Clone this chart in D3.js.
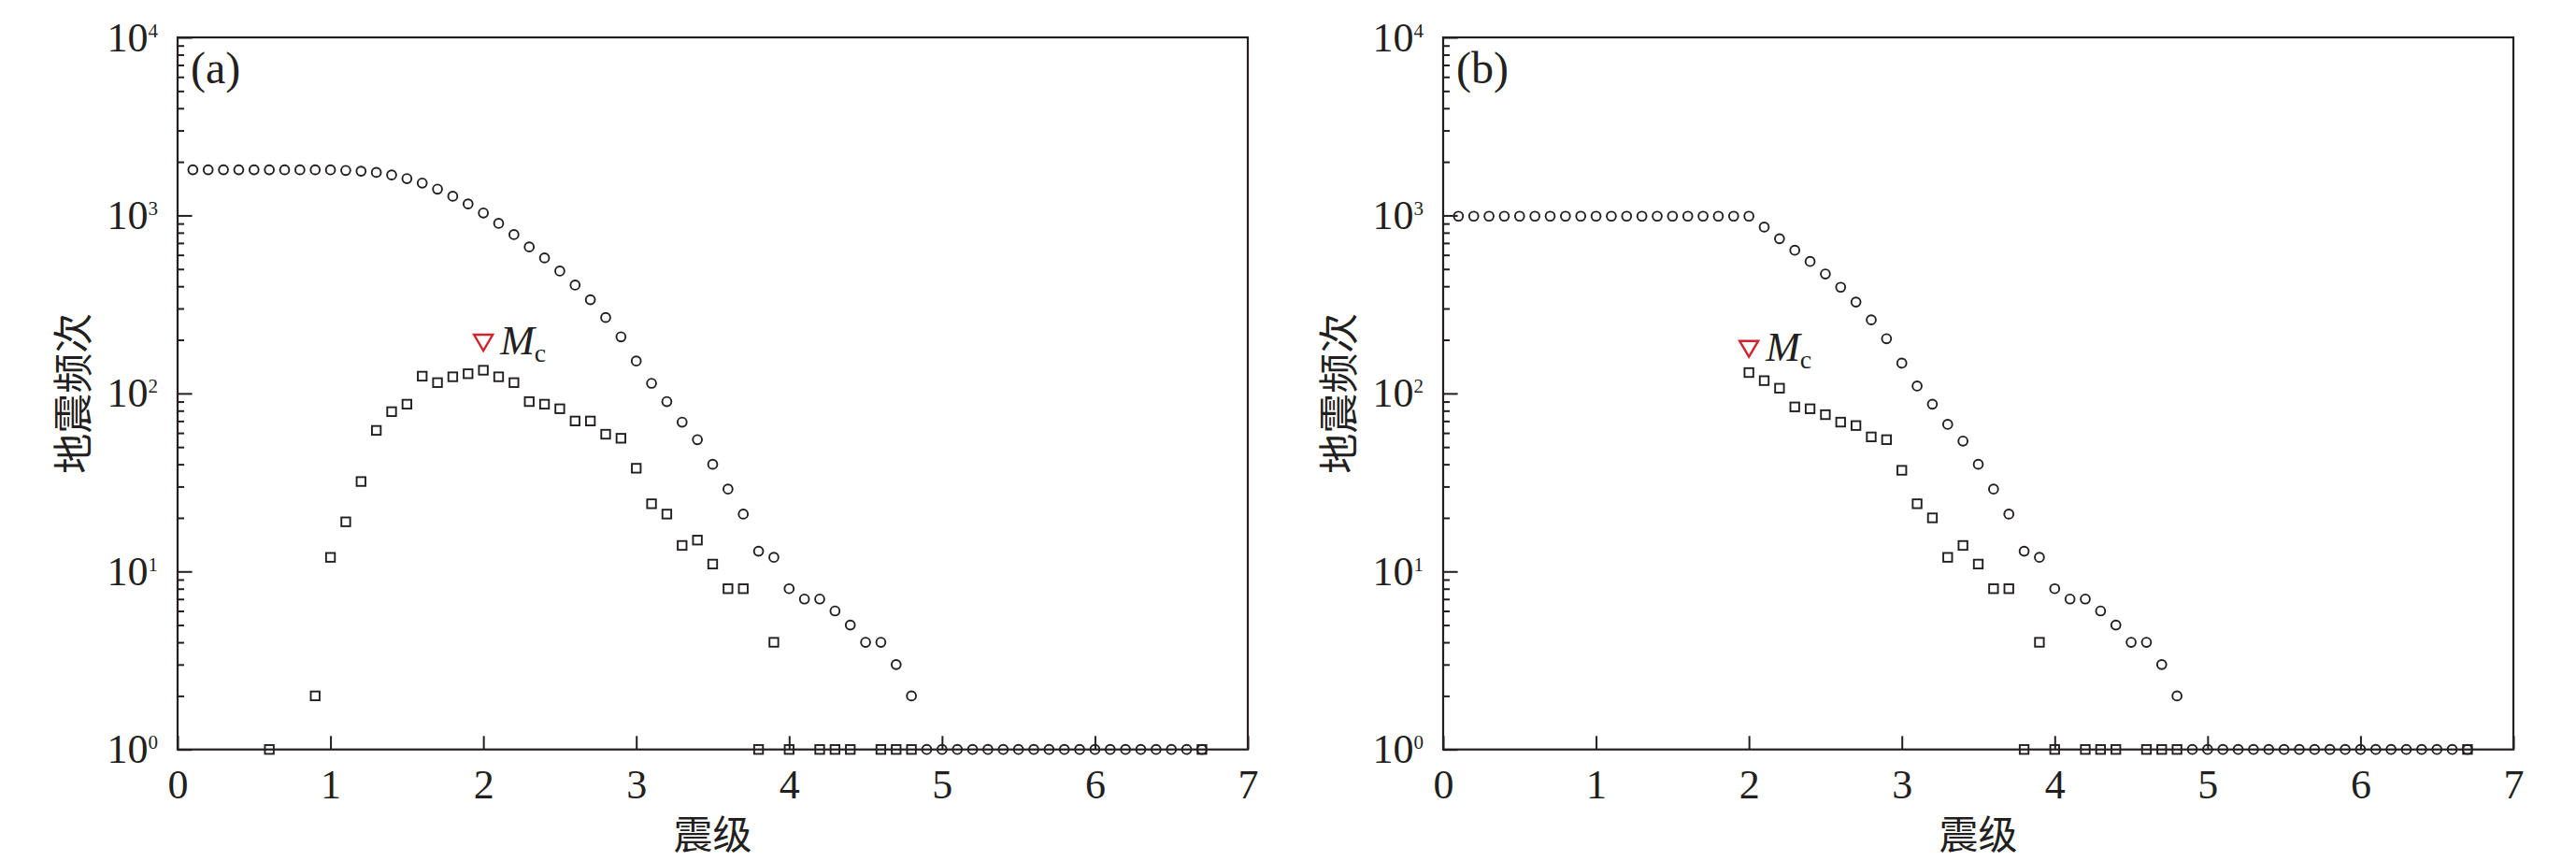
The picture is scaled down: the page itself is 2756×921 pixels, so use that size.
<!DOCTYPE html>
<html>
<head>
<meta charset="utf-8">
<script src="https://cdn.jsdelivr.net/npm/d3@7/dist/d3.min.js"></script>
<style>
body { margin: 0; background: #fff; }
</style>
</head>
<body>
<svg id="chart" width="2756" height="921"></svg>
<script>
// magnitude bins (0.1 step) shared by both panels
var magnitudes = [0.1, 0.2, 0.3, 0.4, 0.5, 0.6, 0.7, 0.8, 0.9, 1.0,
    1.1, 1.2, 1.3, 1.4, 1.5, 1.6, 1.7, 1.8, 1.9, 2.0,
    2.1, 2.2, 2.3, 2.4, 2.5, 2.6, 2.7, 2.8, 2.9, 3.0,
    3.1, 3.2, 3.3, 3.4, 3.5, 3.6, 3.7, 3.8, 3.9, 4.0,
    4.1, 4.2, 4.3, 4.4, 4.5, 4.6, 4.7, 4.8, 4.9, 5.0,
    5.1, 5.2, 5.3, 5.4, 5.5, 5.6, 5.7, 5.8, 5.9, 6.0,
    6.1, 6.2, 6.3, 6.4, 6.5, 6.6, 6.7];

// (a) cumulative counts (circles)
var cumA = [1805, 1805, 1805, 1805, 1805, 1805, 1804, 1804, 1804, 1802,
    1790, 1772, 1745, 1688, 1610, 1520, 1405, 1282, 1160, 1032,
    902, 780, 665, 577, 487, 406, 336, 267, 208, 152,
    114, 90, 69, 55, 40, 29, 21, 13, 12, 8,
    7, 7, 6, 5, 4, 4, 3, 2, 1, 1,
    1, 1, 1, 1, 1, 1, 1, 1, 1, 1,
    1, 1, 1, 1, 1, 1, 1];

// (a) non-cumulative counts (squares)
var binMagA = [0.6, 0.9, 1.0, 1.1, 1.2, 1.3, 1.4, 1.5, 1.6, 1.7, 1.8, 1.9, 2.0,
    2.1, 2.2, 2.3, 2.4, 2.5, 2.6, 2.7, 2.8, 2.9, 3.0, 3.1, 3.2, 3.3, 3.4,
    3.5, 3.6, 3.7, 3.8, 3.9, 4.0, 4.2, 4.3, 4.4, 4.6, 4.7, 4.8, 6.7];
var binCountA = [1, 2, 12, 19, 32, 62, 79, 87, 125, 115, 124, 129, 135,
    124, 115, 90, 87, 82, 70, 70, 59, 56, 38, 24, 21, 14, 15,
    11, 8, 8, 1, 4, 1, 1, 1, 1, 1, 1, 1, 1];

// (b) cumulative counts (circles)
var cumB = [990, 990, 990, 990, 990, 990, 990, 990, 990, 990,
    990, 990, 990, 990, 990, 990, 990, 990, 990, 990,
    860, 740, 637, 551, 469, 395, 326, 259, 203, 148,
    110, 87, 67, 54, 40, 29, 21, 13, 12, 8,
    7, 7, 6, 5, 4, 4, 3, 2, 1, 1,
    1, 1, 1, 1, 1, 1, 1, 1, 1, 1,
    1, 1, 1, 1, 1, 1, 1];

// (b) non-cumulative counts (squares)
var binMagB = [2.0, 2.1, 2.2, 2.3, 2.4, 2.5, 2.6, 2.7, 2.8, 2.9, 3.0,
    3.1, 3.2, 3.3, 3.4, 3.5, 3.6, 3.7, 3.8, 3.9, 4.0, 4.2, 4.3, 4.4,
    4.6, 4.7, 4.8, 6.7];
var binCountB = [131, 118, 107, 84, 82, 76, 69, 66, 57, 55, 37,
    24, 20, 12, 14, 11, 8, 8, 1, 4, 1, 1, 1, 1,
    1, 1, 1, 1];

// completeness magnitude markers [magnitude, marker level]
var mcA = [2.0, 194];
var mcB = [2.0, 179];

var xTicks = [0, 1, 2, 3, 4, 5, 6, 7];
var yDecades = [1, 10, 100, 1000, 10000];
var yExponents = ["0", "1", "2", "3", "4"];

var INK = "#231f20", RED = "#d2232a",
    SERIF = "'Liberation Serif', 'Times New Roman', serif",
    CJK = "'Noto Sans CJK SC', sans-serif";

var svg = d3.select("#chart");
var top_ = 40, width = 1145, height = 761.7;

var panels = [
    {left: 190, tag: "(a)", cum: cumA, binMag: binMagA, bin: binCountA, mc: mcA},
    {left: 1544, tag: "(b)", cum: cumB, binMag: binMagB, bin: binCountB, mc: mcB}
];

var minorTicks = [];
yDecades.slice(0, 4).forEach(function (d) {
    [2, 3, 4, 5, 6, 7, 8, 9].forEach(function (k) { minorTicks.push(d * k); });
});

panels.forEach(function (p) {
    var x = d3.scaleLinear().domain([0, 7]).range([0, width]),
        y = d3.scaleLog().domain([1, 10000]).range([height, 0]),
        g = svg.append("g").attr("transform", "translate(" + p.left + "," + top_ + ")");

    // x axis, ticks pointing inward
    var gx = g.append("g")
        .attr("transform", "translate(0," + height + ")")
        .call(d3.axisBottom(x).tickValues(xTicks).tickSize(-14.4).tickPadding(21)
            .tickFormat(d3.format("d")));
    gx.select(".domain").remove();
    gx.selectAll("line").attr("stroke", INK).attr("stroke-width", 2);
    gx.selectAll("text").attr("fill", INK)
        .style("font-family", SERIF).style("font-size", "44px");

    // y axis, minor ticks
    var gm = g.append("g")
        .call(d3.axisLeft(y).tickValues(minorTicks).tickSize(-7).tickFormat(""));
    gm.select(".domain").remove();
    gm.selectAll("line").attr("stroke", INK).attr("stroke-width", 2);

    // y axis, decades
    var gy = g.append("g")
        .call(d3.axisLeft(y).tickValues(yDecades).tickSize(-15.6).tickPadding(21)
            .tickFormat(function () { return ""; }));
    gy.select(".domain").remove();
    gy.selectAll("line").attr("stroke", INK).attr("stroke-width", 2);
    gy.selectAll("text")
        .attr("fill", INK)
        .style("font-family", SERIF).style("font-size", "44px")
        .each(function (d, i) {
            var t = d3.select(this);
            t.append("tspan").text("10");
            t.append("tspan").attr("dy", -15).style("font-size", "21px").text(yExponents[i]);
        });

    // frame
    g.append("rect")
        .attr("width", width).attr("height", height)
        .attr("fill", "none").attr("stroke", INK).attr("stroke-width", 2.2);

    // cumulative (circles)
    g.append("g").selectAll("circle")
        .data(magnitudes)
        .enter().append("circle")
        .attr("cx", function (d) { return x(d); })
        .attr("cy", function (d, i) { return y(p.cum[i]); })
        .attr("r", 4.9)
        .attr("fill", "none").attr("stroke", INK).attr("stroke-width", 1.9);

    // non-cumulative (squares)
    g.append("g").selectAll("rect")
        .data(p.binMag)
        .enter().append("rect")
        .attr("x", function (d) { return x(d) - 4.7; })
        .attr("y", function (d, i) { return y(p.bin[i]) - 4.7; })
        .attr("width", 9.4).attr("height", 9.4)
        .attr("fill", "none").attr("stroke", INK).attr("stroke-width", 1.9);

    // Mc marker
    var cx = x(p.mc[0]), cy = y(p.mc[1]);
    g.append("path")
        .attr("d", "M" + (cx - 10) + "," + (cy - 8) + "L" + (cx + 10) + "," + (cy - 8) +
            "L" + cx + "," + (cy + 9) + "Z")
        .attr("fill", "none").attr("stroke", RED).attr("stroke-width", 2.4);
    var mt = g.append("text")
        .attr("x", cx + 18).attr("y", cy + 13)
        .attr("fill", INK).style("font-family", SERIF);
    mt.append("tspan").style("font-style", "italic").style("font-size", "44px").text("M");
    mt.append("tspan").attr("dy", 8).style("font-size", "28px").text("c");

    // panel tag
    g.append("text")
        .attr("x", 14).attr("y", 48.5)
        .attr("fill", INK).style("font-family", SERIF).style("font-size", "48px")
        .text(p.tag);

    // axis titles
    g.append("text")
        .attr("x", x(3.5)).attr("y", height + 106)
        .attr("text-anchor", "middle")
        .attr("fill", INK).style("font-family", CJK).style("font-size", "42px")
        .text("震级");
    g.append("text")
        .attr("transform", "translate(" + (-96) + "," + (height / 2) + ") rotate(-90)")
        .attr("text-anchor", "middle")
        .attr("fill", INK).style("font-family", CJK).style("font-size", "43px")
        .text("地震频次");
});
</script>
</body>
</html>
